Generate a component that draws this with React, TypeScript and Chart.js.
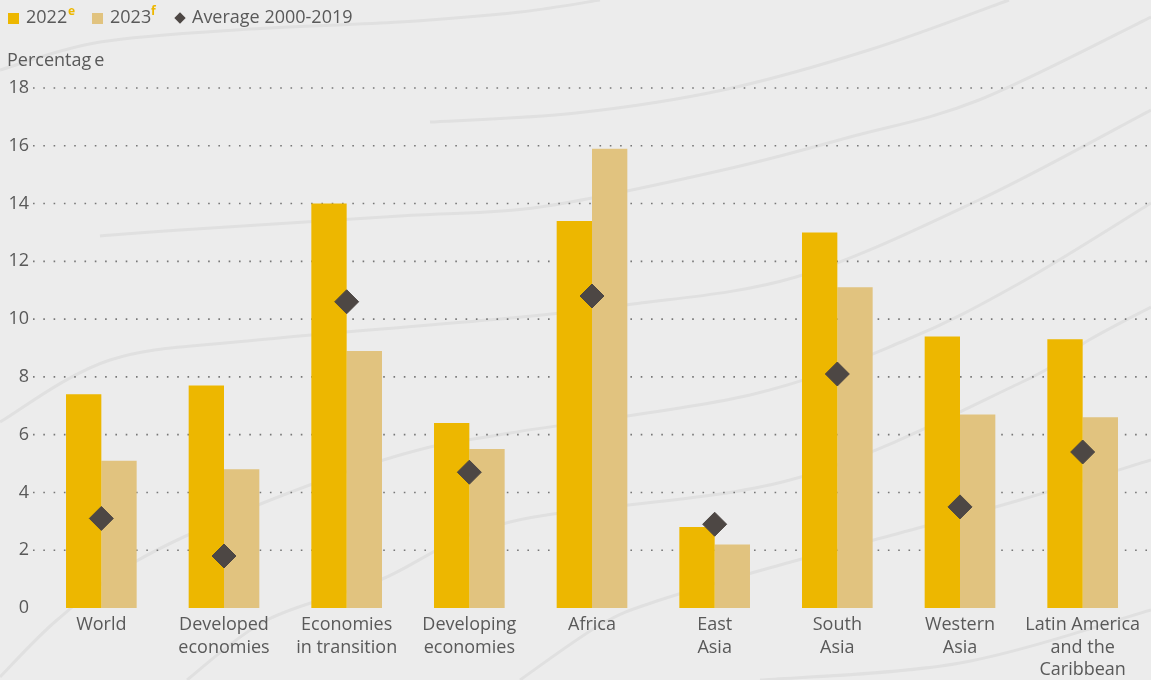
import React, { useEffect, useRef } from "react";
import { Chart, registerables } from "chart.js";

Chart.register(...registerables);

// ---- data ----
const categories: string[][] = [
  ["World"],
  ["Developed", "economies"],
  ["Economies", "in transition"],
  ["Developing", "economies"],
  ["Africa"],
  ["East", "Asia"],
  ["South", "Asia"],
  ["Western", "Asia"],
  ["Latin America", "and the", "Caribbean"],
];
const values2022 = [7.4, 7.7, 14.0, 6.4, 13.4, 2.8, 13.0, 9.4, 9.3];
const values2023 = [5.1, 4.8, 8.9, 5.5, 15.9, 2.2, 11.1, 6.7, 6.6];
const average2000to2019 = [3.1, 1.8, 10.6, 4.7, 10.8, 2.9, 8.1, 3.5, 5.4];
const yMin = 0;
const yMax = 18;
const yStep = 2;

// ---- styles ----
const COLOR_2022 = "#EDB700";
const COLOR_2023 = "#E1C37F";
const COLOR_AVG = "#4D4744";
const TEXT = "#595959";
const BG = "#ECECEC";
const FONT = "'Open Sans', 'Noto Sans', sans-serif";

// decorative background waves (not data)
const waves: number[][][] = [
  [[0, 70], [100, 42], [250, 29], [400, 22], [520, 12], [600, 0]],
  [[430, 122], [576, 113], [723, 90], [869, 50], [1009, 0]],
  [[100, 236], [180, 230], [400, 216], [540, 207], [723, 170], [850, 137], [979, 100], [1151, 17]],
  [[0, 422], [110, 360], [257, 340], [510, 318], [626, 305], [796, 277], [979, 200], [1151, 110]],
  [[0, 677], [57, 620], [133, 563], [253, 507], [400, 455], [510, 433], [750, 395], [906, 340], [1020, 283], [1151, 203]],
  [[187, 680], [267, 620], [380, 580], [510, 522], [790, 480], [1020, 383], [1089, 340], [1151, 307]],
  [[520, 680], [600, 625], [660, 600], [780, 565], [900, 533], [1020, 500], [1151, 460]],
  [[760, 680], [960, 663], [1151, 610]],
];

const backgroundPlugin = {
  id: "bgWaves",
  beforeDraw(chart: any) {
    const ctx = chart.ctx as CanvasRenderingContext2D;
    ctx.save();
    ctx.fillStyle = BG;
    ctx.fillRect(0, 0, chart.width, chart.height);
    ctx.strokeStyle = "#E0E0E0";
    ctx.lineWidth = 3;
    for (const pts of waves) {
      ctx.beginPath();
      ctx.moveTo(pts[0][0], pts[0][1]);
      for (let i = 0; i < pts.length - 1; i++) {
        const p0 = pts[i - 1] || pts[i];
        const p1 = pts[i];
        const p2 = pts[i + 1];
        const p3 = pts[i + 2] || p2;
        const c1x = p1[0] + (p2[0] - p0[0]) / 6;
        const c1y = p1[1] + (p2[1] - p0[1]) / 6;
        const c2x = p2[0] - (p3[0] - p1[0]) / 6;
        const c2y = p2[1] - (p3[1] - p1[1]) / 6;
        ctx.bezierCurveTo(c1x, c1y, c2x, c2y, p2[0], p2[1]);
      }
      ctx.stroke();
    }
    ctx.restore();
  },
};

const dottedGridPlugin = {
  id: "dottedGrid",
  beforeDatasetsDraw(chart: any) {
    const ctx = chart.ctx as CanvasRenderingContext2D;
    const y = chart.scales.y;
    ctx.save();
    ctx.strokeStyle = "#777777";
    ctx.lineWidth = 1.6;
    ctx.setLineDash([1.6, 8.7]);
    for (const t of y.ticks) {
      if (t.value === 0) continue;
      const py = y.getPixelForValue(t.value);
      ctx.beginPath();
      ctx.moveTo(33, py);
      ctx.lineTo(chart.width, py);
      ctx.stroke();
    }
    ctx.restore();
  },
};

export default function App() {
  const canvasRef = useRef<HTMLCanvasElement | null>(null);

  useEffect(() => {
    const canvas = canvasRef.current;
    if (!canvas) return;
    const chart = new Chart(canvas, {
      type: "bar",
      data: {
        labels: categories as any,
        datasets: [
          {
            type: "line" as any,
            label: "Average 2000-2019",
            data: average2000to2019,
            showLine: false,
            pointStyle: "rectRot",
            pointRadius: 12,
            pointHoverRadius: 12,
            pointBackgroundColor: COLOR_AVG,
            pointBorderColor: COLOR_AVG,
            pointBorderWidth: 1,
            order: 0,
          } as any,
          {
            label: "2022",
            data: values2022,
            backgroundColor: COLOR_2022,
            borderWidth: 0,
            categoryPercentage: 0.576,
            barPercentage: 1,
            order: 1,
          },
          {
            label: "2023",
            data: values2023,
            backgroundColor: COLOR_2023,
            borderWidth: 0,
            categoryPercentage: 0.576,
            barPercentage: 1,
            order: 1,
          },
        ],
      },
      options: {
        animation: false,
        responsive: false,
        maintainAspectRatio: false,
        layout: { autoPadding: false, padding: { top: 88, right: 7, bottom: 0, left: 0 } },
        plugins: {
          legend: { display: false },
          tooltip: { enabled: false },
          title: { display: false },
        },
        scales: {
          x: {
            grid: { display: false, drawTicks: false },
            border: { display: false },
            ticks: {
              color: TEXT,
              font: { family: FONT, size: 18, lineHeight: 1.25 },
              padding: 6,
              maxRotation: 0,
              autoSkip: false,
            },
            afterFit: (s: any) => {
              s.height = 72;
              s.paddingLeft = 0;
              s.paddingRight = 0;
            },
          },
          y: {
            min: yMin,
            max: yMax,
            grid: { display: false, drawTicks: false },
            border: { display: false },
            ticks: {
              stepSize: yStep,
              color: TEXT,
              font: { family: FONT, size: 18 },
              padding: 11,
            },
            afterFit: (s: any) => {
              s.width = 40;
            },
          },
        },
      } as any,
      plugins: [backgroundPlugin, dottedGridPlugin],
    });
    return () => chart.destroy();
  }, []);

  const txt: React.CSSProperties = {
    position: "absolute",
    fontFamily: FONT,
    fontSize: 18,
    lineHeight: "24px",
    color: TEXT,
    whiteSpace: "nowrap",
  };
  const sup: React.CSSProperties = {
    position: "absolute",
    fontFamily: FONT,
    fontSize: 12,
    fontWeight: 700,
    lineHeight: "16px",
    color: COLOR_2022,
  };

  return (
    <div
      style={{
        position: "fixed",
        left: 0,
        top: 0,
        width: 1151,
        height: 680,
        background: BG,
        overflow: "hidden",
      }}
    >
      <canvas
        ref={canvasRef}
        width={1151}
        height={680}
        style={{ position: "absolute", left: 0, top: 0, display: "block" }}
      />
      {/* legend */}
      <div style={{ position: "absolute", left: 8, top: 13, width: 10.5, height: 10.5, background: COLOR_2022 }} />
      <span style={{ ...txt, left: 26, top: 4 }}>2022</span>
      <span style={{ ...sup, left: 68, top: 3 }}>e</span>
      <div style={{ position: "absolute", left: 92, top: 13, width: 10.5, height: 10.5, background: COLOR_2023 }} />
      <span style={{ ...txt, left: 110, top: 4 }}>2023</span>
      <span style={{ ...sup, left: 151, top: 3 }}>f</span>
      <div
        style={{
          position: "absolute",
          left: 176,
          top: 13.5,
          width: 8,
          height: 8,
          background: COLOR_AVG,
          transform: "rotate(45deg)",
        }}
      />
      <span style={{ ...txt, left: 192, top: 4 }}>Average 2000-2019</span>
      {/* axis title */}
      <span style={{ ...txt, left: 7, top: 47 }}>
        Percentag<span style={{ marginLeft: 3 }}>e</span>
      </span>
    </div>
  );
}
